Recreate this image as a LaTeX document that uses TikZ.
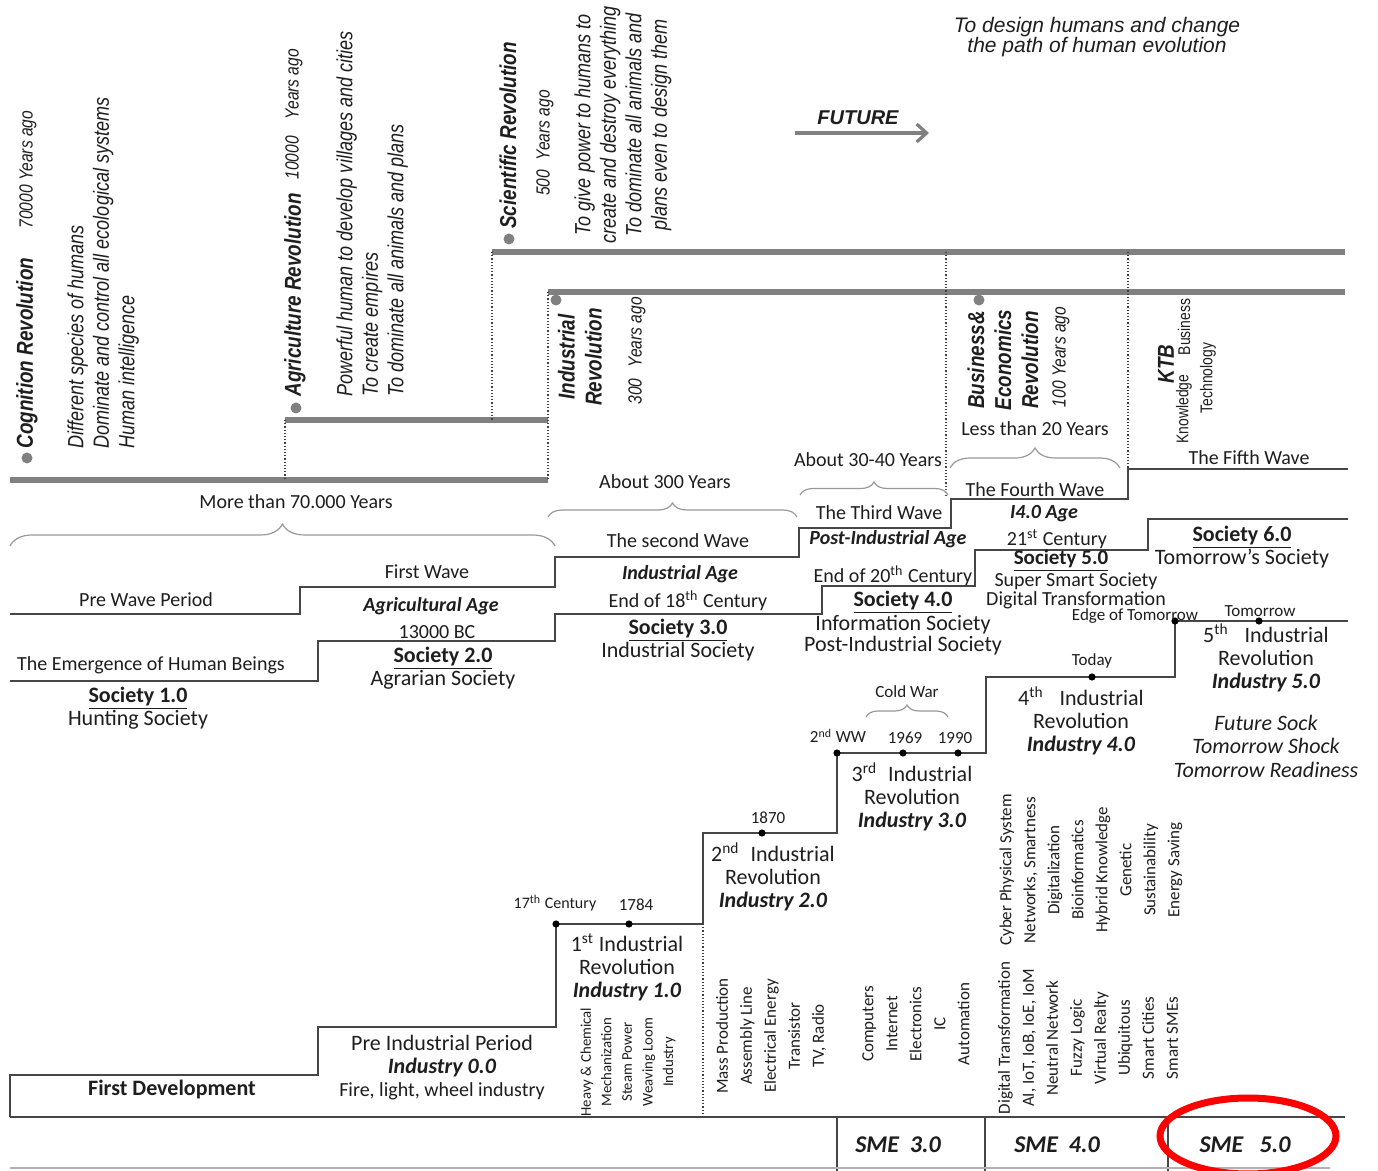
\documentclass[tikz,border=0pt]{standalone}
\usepackage{fontspec}
\setmainfont{Carlito}
\newfontfamily\narrowsf[FakeStretch=0.82]{Liberation Sans}
\newfontfamily\arialsf{Liberation Sans}
\usepackage{xcolor}
\usepackage{tikz}
\usetikzlibrary{decorations.pathreplacing,arrows.meta}

\definecolor{revgray}{RGB}{128,128,128}
\definecolor{stepgray}{RGB}{70,70,70}
\definecolor{ink}{RGB}{30,30,30}

\tikzset{
  revline/.style={draw=revgray, line width=2.6pt},
  stepline/.style={draw=stepgray, line width=1pt},
  guide/.style={draw=black!75, densely dotted, line width=0.6pt},
  span/.style={draw=black!40, line width=0.6pt, decorate, decoration={brace, amplitude=#1}},
  revdot/.style={circle, fill=revgray, inner sep=0pt, minimum size=5.5pt},
  tdot/.style={circle, fill=black, inner sep=0pt, minimum size=3.6pt},
  revtitle/.style={rotate=90, inner sep=0pt, text=ink, font=\narrowsf\bfseries\itshape\fontsize{11.5}{13.5}\selectfont},
  revnote/.style={rotate=90, inner sep=0pt, text=ink, font=\narrowsf\itshape\fontsize{11}{12.75}\selectfont},
  revyears/.style={rotate=90, inner sep=0pt, text=ink, font=\narrowsf\itshape\fontsize{9.5}{11}\selectfont},
  ktbword/.style={rotate=90, inner sep=0pt, text=ink, font=\narrowsf\fontsize{8.5}{10}\selectfont},
  wavelbl/.style={inner sep=0pt, text=ink, font=\fontsize{10}{12}\selectfont},
  agelbl/.style={inner sep=0pt, text=ink, font=\bfseries\itshape\fontsize{10}{12}\selectfont},
  soclbl/.style={inner sep=0pt, text=ink, align=center, font=\fontsize{11}{11.5}\selectfont},
  datelbl/.style={inner sep=0pt, text=ink, font=\fontsize{8.5}{10}\selectfont},
  techlist/.style={rotate=90, inner sep=0pt, align=center, text=ink, font=\fontsize{8.5}{12}\selectfont},
  smelbl/.style={inner sep=0pt, text=ink, font=\bfseries\itshape\fontsize{12}{14}\selectfont},
}

\begin{document}
\begin{tikzpicture}[x=0.5pt,y=-0.5pt]
    \fill[white] (0,0) rectangle (1378,1171);
    \useasboundingbox (0,0) rectangle (1378,1171);

    % Revolution time line
    \draw[revline] (10,480) -- (548,480);
    \draw[revline] (285,420) -- (548,420);
    \draw[revline] (492,252) -- (1345,252);
    \draw[revline] (548,292) -- (1345,292);
    \draw[guide] (285,420) -- (285,480);
    \draw[guide] (492,252) -- (492,420);
    \draw[guide] (548,292) -- (548,480);
    \draw[guide] (946,252) -- (946,497);
    \draw[guide] (1128,252) -- (1128,469);

    % Cognition Revolution
    \node[revdot] (cogdot) at (27,458) {};
    \node[revtitle, anchor=west] (cogrev) at (27,449) {Cognition Revolution};
    \node[revyears, anchor=west] (cogago) at (28,229) {70000 Years ago};
    \node[revnote, anchor=north west, align=left] (cognote) at (67,449)
        {Different species of humans\\Dominate and control all ecological systems\\Human intelligence};

    % Agriculture Revolution
    \node[revdot] (agridot) at (296,408) {};
    \node[revtitle, anchor=west] (agrirev) at (295,397) {Agriculture Revolution};
    \node[revyears, anchor=west] (agriago) at (294,180) {10000\hspace{0.9em}Years ago};
    \node[revnote, anchor=north west, align=left] (agrinote) at (336,397)
        {Powerful human to develop villages and cities\\To create empires\\To dominate all animals and plans};

    % Scientific Revolution
    \node[revdot] (scidot) at (509,239) {};
    \node[revtitle, anchor=west] (scirev) at (508,229) {Scientific Revolution};
    \node[revyears] (sciago) at (545,143) {500\hspace{0.5em}Years ago};
    \node[revnote, align=center] (scinote) at (623,125)
        {To give power to humans to\\create and destroy everything\\To dominate all animals and\\plans even to design them};

    % Industrial Revolution
    \node[revdot] (inddot) at (556,300) {};
    \node[revtitle, align=center] (indrev) at (580,357) {Industrial\\Revolution};
    \node[revyears, anchor=west] (indago) at (637,405) {300\hspace{0.6em}Years ago};

    % Business & Economics Revolution
    \node[revdot] (busdot) at (979,300) {};
    \node[revtitle, align=center] (busrev) at (1003,360) {Business\&\\Economics\\Revolution};
    \node[revyears] (busago) at (1061,357) {100 Years ago};

    % KTB
    \node[revtitle] (ktb) at (1166,364) {KTB};
    \node[ktbword] (ktbk) at (1184,409) {Knowledge};
    \node[ktbword] (ktbb) at (1184,327) {Business};
    \node[ktbword] (ktbt) at (1208,378) {Technology};

    % Future
    \node[align=center, text=ink, font=\arialsf\itshape\fontsize{10.5}{10}\selectfont] (design) at (1097,37)
        {To design humans and change\\the path of human evolution};
    \node[text=ink, font=\arialsf\bfseries\itshape\fontsize{10}{12}\selectfont] (future) at (858,118) {FUTURE};
    \coordinate (futs) at (795,133);
    \coordinate (fute) at (929,133);
    \draw[revgray, line width=1.6pt, -{Straight Barb[length=5pt,width=9pt]}] (futs) -- (fute);

    % Braces
    \draw[span=11pt] (10,546) -- (555,546);
    \node[wavelbl] (more) at (296,502) {More than 70.000 Years};
    \draw[span=7pt] (548,517) -- (797,517);
    \node[wavelbl] (ab300) at (665,482) {About 300 Years};
    \draw[span=6.5pt] (800,495) -- (948,495);
    \node[wavelbl] (ab30) at (868,460) {About 30-40 Years};
    \draw[span=10pt] (950,468) -- (1120,468);
    \node[wavelbl] (less20) at (1035,429) {Less than 20 Years};

    % Waves
    \draw[stepline] (10,614) -- (300,614) -- (300,587) -- (555,587) -- (555,557) -- (799,557)
        -- (799,528) -- (951,528) -- (951,499) -- (1128,499) -- (1128,469) -- (1348,469);
    \node[wavelbl] (wave0) at (146,600) {Pre Wave Period};
    \node[wavelbl] (wave1) at (427,572) {First Wave};
    \node[wavelbl] (wave2) at (678,541) {The second Wave};
    \node[wavelbl] (wave3) at (879,513) {The Third Wave};
    \node[wavelbl] (wave4) at (1035,490) {The Fourth Wave};
    \node[wavelbl] (wave5) at (1249,458) {The Fifth Wave};
    \node[agelbl] (age1) at (431,606) {Agricultural Age};
    \node[agelbl] (age2) at (680,574) {Industrial Age};
    \node[agelbl] (age3) at (888,539) {Post-Industrial Age};
    \node[agelbl] (age4) at (1044,514) {I4.0 Age};

    % Societies
    \draw[stepline] (10,681) -- (318,681) -- (318,641) -- (555,641) -- (555,614) -- (822,614)
        -- (822,586) -- (975,586) -- (975,550) -- (1148,550) -- (1148,519) -- (1348,519);
    \node[wavelbl] (emerge) at (151,665) {The Emergence of Human Beings};
    \node[soclbl] (soc1) at (138,708) {\underline{\textbf{Society 1.0}}\\Hunting Society};
    \node[wavelbl] (bc) at (437,632) {13000 BC};
    \node[soclbl] (soc2) at (443,668) {\underline{\textbf{Society 2.0}}\\Agrarian Society};
    \node[wavelbl] (c18) at (688,601) {End of 18\textsuperscript{th} Century};
    \node[soclbl] (soc3) at (678,640) {\underline{\textbf{Society 3.0}}\\Industrial Society};
    \node[wavelbl] (c20) at (893,576) {End of 20\textsuperscript{th} Century};
    \node[soclbl, font=\fontsize{11}{10.5}\selectfont] (soc4) at (903,623)
        {\underline{\textbf{Society 4.0}}\\Information Society\\Post-Industrial Society};
    \node[wavelbl] (c21) at (1057,539) {21\textsuperscript{st} Century};
    \node[soclbl, font=\fontsize{10.5}{11}\selectfont] (soc5) at (1061,561) {\underline{\textbf{Society 5.0}}};
    \node[soclbl, font=\fontsize{10}{8.5}\selectfont] (soc5txt) at (1076,591) {Super Smart Society\\Digital Transformation};
    \node[soclbl] (soc6) at (1242,547) {\underline{\textbf{Society 6.0}}\\Tomorrow’s Society};

    % Industries
    \draw[stepline] (10,1117) -- (10,1075) -- (318,1075) -- (318,1027) -- (556,1027) -- (556,924)
        -- (703,924) -- (703,833) -- (837,833) -- (837,753) -- (986,753) -- (986,677)
        -- (1175,677) -- (1175,621) -- (1348,621);
    \draw[stepline] (10,1117) -- (1345,1117);
    \draw[guide] (703,924) -- (703,1117);
    \node[soclbl, font=\bfseries\fontsize{11}{12}\selectfont] (firstdev) at (172,1090) {First Development};
    \node[soclbl] (ind0) at (442,1068)
        {Pre Industrial Period\\\textbf{\textit{Industry 0.0}}\\{\fontsize{10}{11.5}\selectfont Fire, light, wheel industry}};
    \node[soclbl] (ind1) at (627,967) {1\textsuperscript{st} Industrial\\Revolution\\\textbf{\textit{Industry 1.0}}};
    \node[soclbl] (ind2) at (773,877) {2\textsuperscript{nd}\enspace Industrial\\Revolution\\\textbf{\textit{Industry 2.0}}};
    \node[soclbl] (ind3) at (912,797) {3\textsuperscript{rd}\enspace Industrial\\Revolution\\\textbf{\textit{Industry 3.0}}};
    \node[soclbl] (ind4) at (1081,721) {4\textsuperscript{th}\enspace\ Industrial\\Revolution\\\textbf{\textit{Industry 4.0}}};
    \node[soclbl] (ind5) at (1266,658) {5\textsuperscript{th}\enspace\ Industrial\\Revolution\\\textbf{\textit{Industry 5.0}}};
    \node[soclbl, font=\itshape\fontsize{11}{11.75}\selectfont] (shock) at (1266,746)
        {Future Sock\\Tomorrow Shock\\Tomorrow Readiness};

    % Dates
    \node[tdot] (d17) at (556,924) {};
    \node[tdot] (d1784) at (629,924) {};
    \node[tdot] (d1870) at (762,833) {};
    \node[tdot] (dww) at (837,753) {};
    \node[tdot] (d1969) at (903,753) {};
    \node[tdot] (d1990) at (958,753) {};
    \node[tdot] (dtoday) at (1092,677) {};
    \node[tdot] (dedge) at (1175,621) {};
    \node[tdot] (dtomor) at (1259,621) {};
    \node[datelbl, font=\fontsize{8}{10}\selectfont] (t17) at (555,903) {17\textsuperscript{th} Century};
    \node[datelbl] (t1784) at (636,905) {1784};
    \node[datelbl] (t1870) at (768,818) {1870};
    \node[datelbl] (tww) at (838,736) {2\textsuperscript{nd} WW};
    \node[datelbl] (t1969) at (905,738) {1969};
    \node[datelbl] (t1990) at (955,738) {1990};
    \draw[span=6pt] (866,717) -- (948,717);
    \node[datelbl] (cold) at (907,692) {Cold War};
    \node[datelbl] (ttoday) at (1092,661) {Today};
    \node[datelbl] (tedge) at (1135,616) {Edge of Tomorrow};
    \node[datelbl] (ttomor) at (1260,611) {Tomorrow};

    % Technologies
    \node[techlist, font=\fontsize{7.4}{10.3}\selectfont] (tech1) at (628,1062)
        {Heavy \& Chemical\\Mechanization\\Steam Power\\Weaving Loom\\Industry};
    \node[techlist] (tech2) at (771,1036)
        {Mass Production\\Assembly Line\\Electrical Energy\\Transistor\\TV, Radio};
    \node[techlist] (tech3) at (916,1024)
        {Computers\\Internet\\Electronics\\IC\\Automation};
    \node[techlist] (tech4a) at (1091,870)
        {Cyber Physical System\\Networks, Smartness\\Digitalization\\Bioinformatics\\Hybrid Knowledge\\Genetic\\Sustainability\\Energy Saving};
    \node[techlist] (tech4b) at (1088,1038)
        {Digital Transformation\\AI, IoT, IoB, IoE, IoM\\Neutral Network\\Fuzzy Logic\\Virtual Realty\\Ubiquitous\\Smart Cities\\Smart SMEs};

    % SME row
    \draw[stepline] (837,1117) -- (837,1171);
    \draw[stepline] (985,1117) -- (985,1171);
    \draw[stepline] (1168,1117) -- (1168,1171);
    \draw[black!30, line width=0.6pt] (10,1168) -- (1330,1168);
    \node[smelbl] (sme3) at (898,1145) {SME\ \ 3.0};
    \node[smelbl] (sme4) at (1057,1145) {SME\ \ 4.0};
    \node[smelbl] (sme5) at (1245,1145) {SME\ \ \ 5.0};
    \draw[red, line width=3.5pt] (1248,1136) ellipse [x radius=44pt, y radius=19pt];
\end{tikzpicture}
\end{document}
